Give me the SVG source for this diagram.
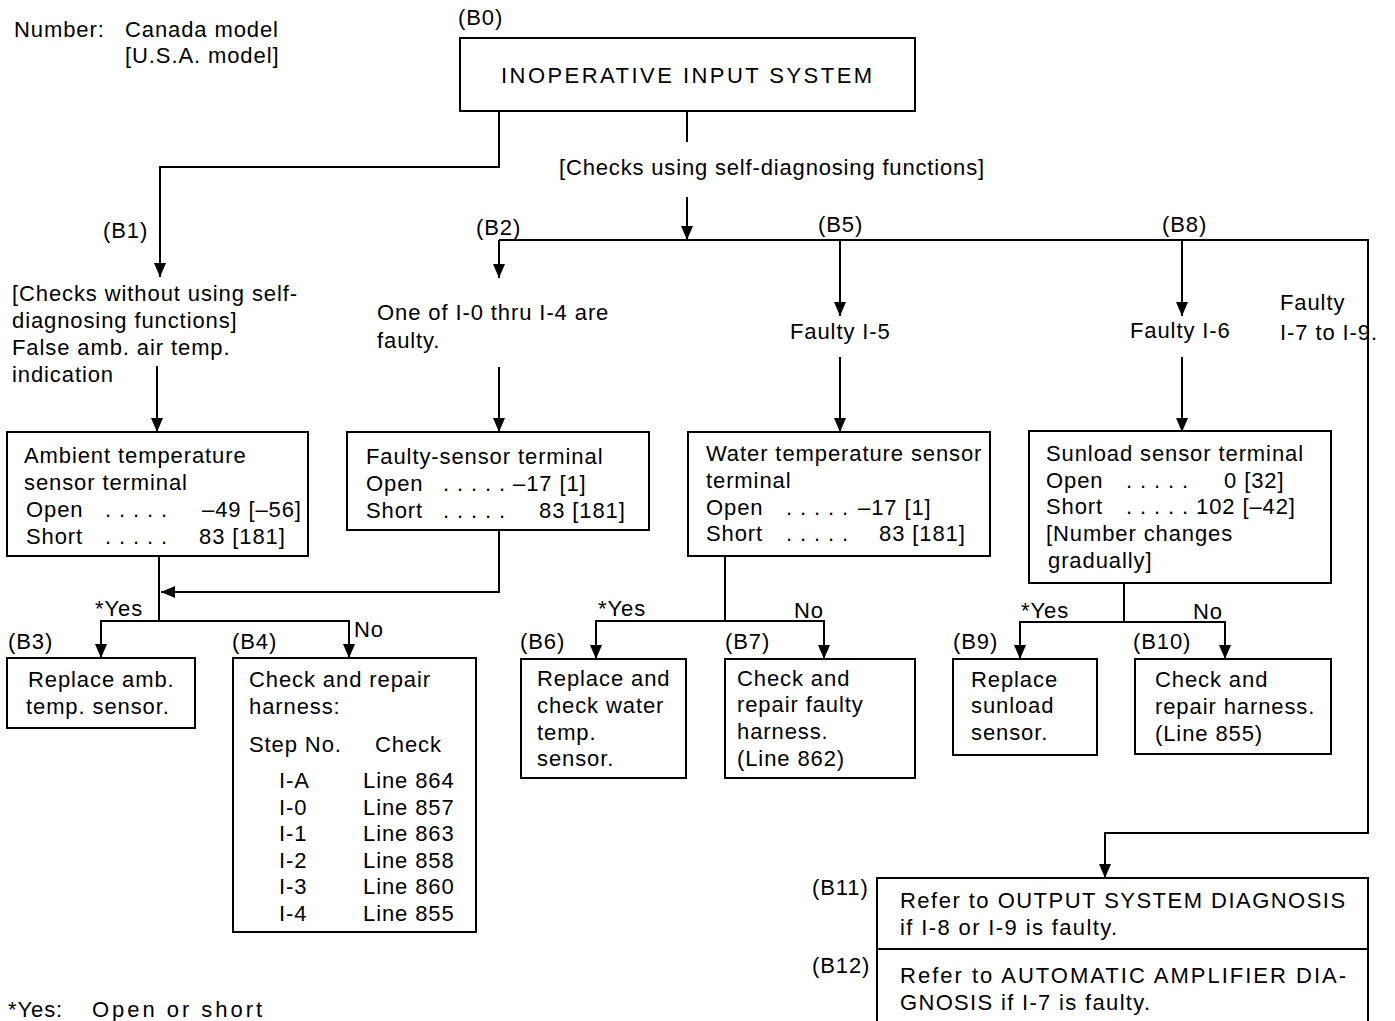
<svg xmlns="http://www.w3.org/2000/svg" width="1395" height="1021" viewBox="0 0 1395 1021">
<style>
text{font-family:"Liberation Sans",Arial,Helvetica,sans-serif;font-size:22px;fill:#000;letter-spacing:0.9px}
.box{fill:#fff;stroke:#000;stroke-width:2}
.ln{fill:none;stroke:#000;stroke-width:2}
</style>
<defs>
<marker id="ah" viewBox="0 0 14 12" refX="14" refY="6" markerWidth="14" markerHeight="12" markerUnits="userSpaceOnUse" orient="auto-start-reverse">
<path d="M0,0 L14,6 L0,12 Z" fill="#000"/>
</marker>
</defs>
<rect width="1395" height="1021" fill="#fff"/>

<g id="legend">
<text x="14" y="37">Number:</text>
<text x="125" y="37">Canada model</text>
<text x="125" y="63">[U.S.A. model]</text>
<text x="8" y="1017" font-size="23">*Yes:</text>
<text x="92" y="1017" font-size="23" textLength="171">Open or short</text>
</g>

<g id="connectors">
<path class="ln" d="M499,111 V167 H160 V277" marker-end="url(#ah)"/>
<path class="ln" d="M687,111 V142"/>
<path class="ln" d="M687,197 V240" marker-end="url(#ah)"/>
<path class="ln" d="M499,240 H1368 V833 H1105 V878" marker-end="url(#ah)"/>
<path class="ln" d="M499,240 V278" marker-end="url(#ah)"/>
<path class="ln" d="M840,240 V316" marker-end="url(#ah)"/>
<path class="ln" d="M1182,240 V316" marker-end="url(#ah)"/>
<path class="ln" d="M157,366 V432" marker-end="url(#ah)"/>
<path class="ln" d="M499,367 V432" marker-end="url(#ah)"/>
<path class="ln" d="M840,357 V432" marker-end="url(#ah)"/>
<path class="ln" d="M1182,357 V432" marker-end="url(#ah)"/>
<path class="ln" d="M499,530 V592 H161" marker-end="url(#ah)"/>
<path class="ln" d="M159,556 V621"/>
<path class="ln" d="M101,658 V621 H349 V658" marker-start="url(#ah)" marker-end="url(#ah)"/>
<path class="ln" d="M725,556 V621"/>
<path class="ln" d="M596,659 V621 H824 V659" marker-start="url(#ah)" marker-end="url(#ah)"/>
<path class="ln" d="M1124,583 V622"/>
<path class="ln" d="M1020,659 V622 H1225 V659" marker-start="url(#ah)" marker-end="url(#ah)"/>
<text x="95" y="616">*Yes</text>
<text x="354" y="637">No</text>
<text x="598" y="616">*Yes</text>
<text x="794" y="618">No</text>
<text x="1021" y="618">*Yes</text>
<text x="1193" y="619">No</text>
<text x="559" y="175" textLength="426">[Checks using self-diagnosing functions]</text>
</g>

<g id="B0">
<text x="458" y="25">(B0)</text>
<rect class="box" x="460" y="38" width="455" height="73"/>
<text x="501" y="83" textLength="372" font-size="21">INOPERATIVE INPUT SYSTEM</text>
</g>

<g id="B1">
<text x="103" y="238">(B1)</text>
<text x="12" y="301">[Checks without using self-</text>
<text x="12" y="328">diagnosing functions]</text>
<text x="12" y="355">False amb. air temp.</text>
<text x="12" y="382">indication</text>
</g>

<g id="B2">
<text x="476" y="235">(B2)</text>
<text x="377" y="320">One of I-0 thru I-4 are</text>
<text x="377" y="348">faulty.</text>
</g>

<g id="B5">
<text x="818" y="232">(B5)</text>
<text x="790" y="339">Faulty I-5</text>
</g>

<g id="B8">
<text x="1162" y="232">(B8)</text>
<text x="1130" y="338">Faulty I-6</text>
<text x="1280" y="310">Faulty</text>
<text x="1280" y="340">I-7 to I-9.</text>
</g>

<g id="ambient">
<rect class="box" x="7" y="432" width="301" height="124"/>
<text x="24" y="463">Ambient temperature</text>
<text x="24" y="490">sensor terminal</text>
<text x="26" y="517">Open</text><text x="105" y="517">. . . . .</text><text x="202" y="517">–49 [–56]</text>
<text x="26" y="544">Short</text><text x="105" y="544">. . . . .</text><text x="199" y="544">83 [181]</text>
</g>

<g id="faultysensor">
<rect class="box" x="347" y="432" width="302" height="98"/>
<text x="366" y="464">Faulty-sensor terminal</text>
<text x="366" y="491">Open</text><text x="443" y="491">. . . . .</text><text x="513" y="491">–17 [1]</text>
<text x="366" y="518">Short</text><text x="443" y="518">. . . . .</text><text x="539" y="518">83 [181]</text>
</g>

<g id="water">
<rect class="box" x="688" y="432" width="302" height="124"/>
<text x="706" y="461">Water temperature sensor</text>
<text x="706" y="488">terminal</text>
<text x="706" y="515">Open</text><text x="786" y="515">. . . . .</text><text x="858" y="515">–17 [1]</text>
<text x="706" y="541">Short</text><text x="786" y="541">. . . . .</text><text x="879" y="541">83 [181]</text>
</g>

<g id="sunload">
<rect class="box" x="1029" y="431" width="302" height="152"/>
<text x="1046" y="461">Sunload sensor terminal</text>
<text x="1046" y="488">Open</text><text x="1126" y="488">. . . . .</text><text x="1224" y="488">0 [32]</text>
<text x="1046" y="514">Short</text><text x="1126" y="514">. . . . .</text><text x="1196" y="514">102 [–42]</text>
<text x="1046" y="541">[Number changes</text>
<text x="1048" y="568">gradually]</text>
</g>

<g id="B3">
<text x="8" y="649">(B3)</text>
<rect class="box" x="7" y="658" width="188" height="70"/>
<text x="28" y="687">Replace amb.</text>
<text x="26" y="714">temp. sensor.</text>
</g>

<g id="B4">
<text x="232" y="649">(B4)</text>
<rect class="box" x="233" y="658" width="243" height="274"/>
<text x="249" y="687">Check and repair</text>
<text x="249" y="714">harness:</text>
<text x="249" y="752">Step No.</text><text x="375" y="752">Check</text>
<text x="279" y="788">I-A</text><text x="363" y="788">Line 864</text>
<text x="279" y="815">I-0</text><text x="363" y="815">Line 857</text>
<text x="279" y="841">I-1</text><text x="363" y="841">Line 863</text>
<text x="279" y="868">I-2</text><text x="363" y="868">Line 858</text>
<text x="279" y="894">I-3</text><text x="363" y="894">Line 860</text>
<text x="279" y="921">I-4</text><text x="363" y="921">Line 855</text>
</g>

<g id="B6">
<text x="520" y="649">(B6)</text>
<rect class="box" x="521" y="659" width="165" height="119"/>
<text x="537" y="686">Replace and</text>
<text x="537" y="713">check water</text>
<text x="537" y="740">temp.</text>
<text x="537" y="766">sensor.</text>
</g>

<g id="B7">
<text x="725" y="649">(B7)</text>
<rect class="box" x="725" y="659" width="190" height="119"/>
<text x="737" y="686">Check and</text>
<text x="737" y="712">repair faulty</text>
<text x="737" y="739">harness.</text>
<text x="737" y="766">(Line 862)</text>
</g>

<g id="B9">
<text x="953" y="649">(B9)</text>
<rect class="box" x="953" y="659" width="144" height="96"/>
<text x="971" y="687">Replace</text>
<text x="971" y="713">sunload</text>
<text x="971" y="740">sensor.</text>
</g>

<g id="B10">
<text x="1133" y="649">(B10)</text>
<rect class="box" x="1135" y="659" width="196" height="95"/>
<text x="1155" y="687">Check and</text>
<text x="1155" y="714">repair harness.</text>
<text x="1155" y="741">(Line 855)</text>
</g>

<g id="B11">
<text x="812" y="895">(B11)</text>
<rect class="box" x="877" y="878" width="491" height="71"/>
<text x="900" y="908" textLength="446">Refer to OUTPUT SYSTEM DIAGNOSIS</text>
<text x="900" y="935" textLength="218">if I-8 or I-9 is faulty.</text>
</g>

<g id="B12">
<text x="812" y="973">(B12)</text>
<rect class="box" x="877" y="949" width="491" height="80"/>
<text x="900" y="983" textLength="447">Refer to AUTOMATIC AMPLIFIER DIA-</text>
<text x="900" y="1010" textLength="251">GNOSIS if I-7 is faulty.</text>
</g>
</svg>
